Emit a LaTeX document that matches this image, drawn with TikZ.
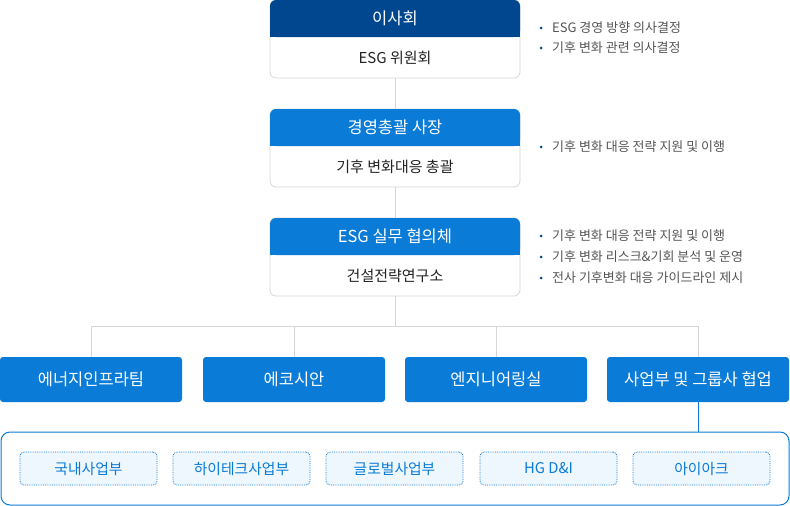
\documentclass[tikz,border=0pt]{standalone}
\usepackage{fontspec}
\setmainfont{Noto Sans CJK KR}
\definecolor{navy}{HTML}{01478F}
\definecolor{blu}{HTML}{0A7BD6}
\definecolor{gline}{HTML}{D6D6D6}
\definecolor{txt}{HTML}{222222}
\definecolor{btxt}{HTML}{555555}
\definecolor{lfill}{HTML}{EEF6FE}
\begin{document}
\begin{tikzpicture}[x=1pt,y=-1pt,
  bodybox/.style={draw=gline,line width=0.8pt,rounded corners=6pt,fill=white,minimum width=250pt,minimum height=78pt,inner sep=0pt},
  hdr/.style={rounded corners=6pt,minimum width=250pt,minimum height=37pt,inner sep=0pt},
  hdrtxt/.style={text=white,font=\fontsize{16.5}{18}\selectfont},
  bodytxt/.style={text=txt,font=\fontsize{15}{17}\selectfont},
  unit/.style={fill=blu,rounded corners=3pt,minimum width=182pt,minimum height=45pt,inner sep=0pt,text=white,font=\fontsize{16.5}{18}\selectfont},
  sub/.style={draw=blu,densely dotted,line width=0.8pt,fill=lfill,rounded corners=4pt,minimum width=137pt,minimum height=33pt,inner sep=0pt,text=blu,font=\fontsize{14.8}{16}\selectfont},
  bul/.style={anchor=west,text=btxt,font=\fontsize{13}{15}\selectfont,inner sep=0pt},
  conn/.style={draw=gline,line width=0.8pt},
]
\useasboundingbox (0,0) rectangle (790,506);
% group 1
\node[bodybox] (g1) at (395,39) {};
\node[hdr,fill=navy] (h1) at (395,18.5) {};
\fill[navy] (h1.south west) rectangle ([yshift=8pt]h1.south east);
\node[hdrtxt] (h1t) at (395,18.5) {이사회};
\node[bodytxt] (b1) at (395,58) {ESG 위원회};
% group 2
\node[bodybox] (g2) at (395,148) {};
\node[hdr,fill=blu] (h2) at (395,127.5) {};
\fill[blu] (h2.south west) rectangle ([yshift=8pt]h2.south east);
\node[hdrtxt] (h2t) at (395,127.5) {경영총괄 사장};
\node[bodytxt] (b2) at (395,167) {기후 변화대응 총괄};
% group 3
\node[bodybox] (g3) at (395,257) {};
\node[hdr,fill=blu] (h3) at (395,236.5) {};
\fill[blu] (h3.south west) rectangle ([yshift=8pt]h3.south east);
\node[hdrtxt] (h3t) at (395,236.5) {ESG 실무 협의체};
\node[bodytxt] (b3) at (395,276) {건설전략연구소};
% connectors between groups
\draw[conn] (g1.south) -- (g2.north);
\draw[conn] (g2.south) -- (g3.north);
% units
\node[unit] (u1) at (91,379.5) {에너지인프라팀};
\node[unit] (u2) at (294,379.5) {에코시안};
\node[unit] (u3) at (496,379.5) {엔지니어링실};
\node[unit] (u4) at (698,379.5) {사업부 및 그룹사 협업};
\coordinate (bus) at (395,326);
\draw[conn] (g3.south) -- (bus);
\draw[conn] (u1.north) -- (u1.north |- bus) -- (u4.north |- bus) -- (u4.north);
\draw[conn] (u2.north) -- (u2.north |- bus);
\draw[conn] (u3.north) -- (u3.north |- bus);
% container
\node[draw=blu,line width=1pt,rounded corners=9pt,minimum width=788pt,minimum height=73pt,inner sep=0pt] (cont) at (395,468.5) {};
\draw[blu,line width=1pt] (u4.south) -- (u4.south |- cont.north);
\node[sub] (s1) at (88.5,468.5) {국내사업부};
\node[sub] (s2) at (241.5,468.5) {하이테크사업부};
\node[sub] (s3) at (394.5,468.5) {글로벌사업부};
\node[sub] (s4) at (548.5,468.5) {HG D\&I};
\node[sub] (s5) at (701.5,468.5) {아이아크};
% bullets
\foreach \y/\t [count=\i] in {28/ESG 경영 방향 의사결정, 48/기후 변화 관련 의사결정, 147/기후 변화 대응 전략 지원 및 이행, 236/기후 변화 대응 전략 지원 및 이행, 257/기후 변화 리스크\&기회 분석 및 운영, 278/전사 기후변화 대응 가이드라인 제시}{
  \fill[navy] (541,\y) circle (1.5pt);
  \node[bul] (bl\i) at (552,\y) {\t};
}
\end{tikzpicture}
\end{document}
